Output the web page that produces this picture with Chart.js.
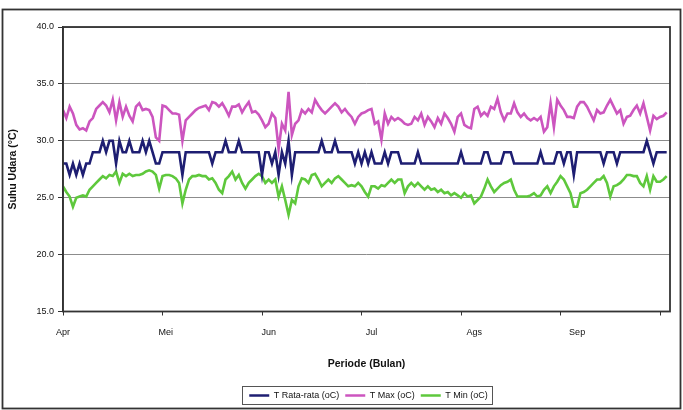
<!DOCTYPE html>
<html><head><meta charset="utf-8">
<script src="https://cdn.jsdelivr.net/npm/chart.js@4/dist/chart.umd.min.js"></script>
<style>html,body{margin:0;padding:0;background:#fff;}canvas{display:block;}</style>
</head><body>
<canvas id="c" width="683" height="410"></canvas>
<script>
const monthLabels = ['Apr', 'Mei', 'Jun', 'Jul', 'Ags', 'Sep'];
const labelDays = [0, 31, 62, 93, 124, 155];
const tickDays = [0, 30, 60, 90, 120, 150, 180];
const yTicks = [15, 20, 25, 30, 35, 40];
const seriesNames = ['T Rata-rata (oC)', 'T Max (oC)', 'T Min (oC)'];

const tRata = [
  28,28,27,28,27,28,27,28,28,29, 29,29,30,29,30,30,28,30,29,29, 30,29,29,29,30,29,30,29,28,28,
  29,29,29,29,29,29,27,29,29,29, 29,29,29,29,29,28,29,29,29,30, 29,29,29,30,29,29,29,29,29,29,
  27,29,29,28,29,27,29,28,30,27, 29,29,29,29,29,29,29,29,30,29, 29,29,30,29,29,29,29,29,28,29,
  28,29,28,29,28,28,28,29,28,29, 29,29,28,28,28,28,28,29,28,28, 28,28,28,28,28,28,28,28,28,28,
  29,28,28,28,28,28,28,29,29,28, 28,28,28,29,29,29,28,28,28,28, 28,28,28,28,29,28,28,28,28,29,
  29,28,29,29,27,29,29,29,29,29, 29,29,29,28,29,29,29,28,29,29, 29,29,29,29,29,29,30,29,28,29, 29,29,29
];

const tMax = [
  32.7,32.0,33.0,32.4,31.4,31.0,31.1,30.9,31.7,32.0, 32.8,33.1,33.4,33.1,32.5,33.6,31.8,33.4,32.1,33.0,
  32.2,31.7,33.0,33.3,32.7,32.8,32.7,32.1,30.3,30.0,
  33.1,33.0,32.7,32.4,32.4,32.3,30.0,31.8,32.1,32.4, 32.7,32.9,33.0,33.1,32.7,33.4,33.3,33.0,33.3,32.8,
  32.2,33.0,33.0,33.2,32.5,33.0,33.4,32.5,32.6,
  32.3,31.8,31.2,31.5,32.4,32.0,29.3,31.5,30.9,34.3, 30.5,31.5,31.8,32.7,32.4,32.8,32.5,33.6,33.1,32.7,
  32.4,32.7,33.0,33.3,33.0,32.5,32.8,32.4,32.1,31.5, 32.1,32.4,32.5,32.7,32.8,
  31.5,31.7,30.1,32.4,31.5,32.1,31.8,32.0,31.8,31.5, 31.4,31.5,32.1,31.8,32.4,31.4,32.1,31.7,31.2,32.0,
  31.5,32.4,32.0,31.5,30.8,32.1,32.4,31.4,31.2,31.1, 32.8,33.0,
  32.2,32.5,32.2,33.0,32.8,33.7,32.5,31.8,32.4,32.4, 33.3,32.5,32.1,32.4,32.0,31.8,32.0,31.8,32.1,30.8,
  31.2,33.3,31.2,33.6,33.1,32.7,32.1,32.1,32.0,33.0, 33.4,
  33.4,33.0,32.4,31.8,32.7,32.4,32.5,33.1,33.6,33.0, 32.4,32.7,31.5,32.1,32.2,32.7,33.1,32.4,33.3,32.1,
  30.9,32.2,31.9,32.1,32.2,32.5
];

const tMin = [
  26.0,25.5,25.1,24.2,25.0,25.1,25.2,25.1,25.7,26.0, 26.3,26.6,26.9,26.7,27.0,26.9,27.3,26.3,27.1,26.9,
  27.1,26.9,27.0,27.0,27.1,27.3,27.4,27.3,27.0,
  25.8,26.9,27.0,27.0,26.9,26.7,26.3,24.5,25.7,26.6, 26.9,26.9,27.0,26.9,26.9,26.6,26.7,26.3,25.7,25.4,
  26.6,26.9,27.3,26.6,27.0,26.3,25.8,26.3,26.6,26.9,
  27.1,26.9,26.3,26.6,26.3,26.6,25.1,26.0,24.8,23.5, 24.8,24.5,26.0,26.7,26.6,26.3,27.0,27.1,26.6,26.0,
  26.3,26.6,26.3,26.7,26.9,26.6,26.3,26.0,26.1,26.0, 26.3,26.0,25.5,25.1,26.0,
  26.0,25.8,26.1,26.0,26.3,26.6,26.3,26.6,26.6,25.4, 26.0,26.3,26.0,26.3,26.0,25.7,26.0,25.7,25.8,25.5,
  25.7,25.4,25.5,25.2,25.4,25.2,25.0,25.4,25.1,25.2, 24.5,24.8,
  25.1,25.8,26.6,26.0,25.5,25.8,26.1,26.3,26.4,26.6, 25.7,25.1,25.1,25.1,25.1,25.2,25.4,25.1,25.2,25.7,
  26.0,25.4,26.0,26.4,26.9,26.6,26.0,25.4,24.2,24.2, 25.4,
  25.5,25.7,26.0,26.3,26.6,26.6,26.9,26.3,25.1,26.0, 26.1,26.3,26.6,27.0,27.0,26.9,26.9,26.3,26.0,26.9,
  25.7,26.9,26.4,26.4,26.6,26.9
];

const FONT = "'Liberation Sans', Arial, Helvetica, sans-serif";
const colors = ['#1E1E72', '#CC55BF', '#5EC83C'];
const mk = arr => arr.map((v, i) => ({ x: i, y: v }));

const framePlugin = {
  id: 'frame',
  afterLayout(chart) {
    const lg = chart.legend;
    if (lg) {
      const ca = chart.chartArea;
      const shift = (ca.left + ca.right) / 2 + 2 - (lg.left + lg.right) / 2;
      lg.left += shift; lg.right += shift;
    }
  },
  afterDraw(chart) {
    const ctx = chart.ctx, ca = chart.chartArea;
    ctx.save();
    ctx.strokeStyle = '#333';
    ctx.lineWidth = 1.8;
    ctx.strokeRect(ca.left, ca.top, ca.right - ca.left, ca.bottom - ca.top);
    ctx.strokeRect(2.5, 9.5, 678, 399);
    const lg = chart.legend;
    if (lg && lg.lineWidths && lg.lineWidths.length) {
      const pad = lg.options.labels.padding;
      const lw = lg.lineWidths[0];
      const startX = (lg.left + pad + lg.right - lw) / 2;
      const endX = startX + lw - pad;
      const top = lg.top + pad;
      const itemH = lg.options.labels.font.size;
      ctx.lineWidth = 1;
      ctx.strokeStyle = '#555';
      ctx.strokeRect(Math.round(startX - 7) + 0.5, Math.round(top - 5) + 0.5,
                     Math.round(endX - startX + 11), Math.round(itemH + 9));
    }
    ctx.restore();
  }
};

new Chart(document.getElementById('c'), {
  type: 'line',
  data: {
    datasets: [tRata, tMax, tMin].map((arr, i) => ({
      label: seriesNames[i], data: mk(arr), borderColor: colors[i], backgroundColor: colors[i],
      borderWidth: 2.6, pointRadius: 0, tension: 0, xAxisID: 'x', yAxisID: 'y'
    }))
  },
  options: {
    responsive: false, animation: false, devicePixelRatio: 1,
    layout: { padding: { top: 27, right: 13, bottom: 0, left: 0 } },
    plugins: {
      legend: {
        position: 'bottom',
        labels: { usePointStyle: true, pointStyle: 'line', pointStyleWidth: 20, boxWidth: 20, padding: 6,
                  color: '#111', font: { family: FONT, size: 9 } }
      },
      tooltip: { enabled: false }
    },
    scales: {
      x: {
        type: 'linear', position: 'bottom', weight: 1, min: 0, max: 183,
        afterBuildTicks: s => { s.ticks = labelDays.map(v => ({ value: v })); },
        afterFit: s => { s.height = 69.5; },
        ticks: { autoSkip: false, maxRotation: 0, padding: 4, color: '#111', font: { family: FONT, size: 9 },
                 callback: v => monthLabels[labelDays.indexOf(v)] },
        grid: { display: false }, border: { display: false },
        title: { display: true, text: 'Periode (Bulan)', color: '#111',
                 font: { family: FONT, size: 10.5, weight: 'bold' }, padding: { top: 0, bottom: 14.5 } }
      },
      x2: {
        type: 'linear', position: 'bottom', weight: 0, min: 0, max: 183,
        afterBuildTicks: s => { s.ticks = tickDays.map(v => ({ value: v })); },
        ticks: { display: false },
        grid: { drawOnChartArea: false, drawTicks: true, tickLength: 4, color: '#333', lineWidth: 1 },
        border: { display: false }
      },
      y: {
        min: 15, max: 40,
        afterBuildTicks: s => { s.ticks = yTicks.map(v => ({ value: v })); },
        afterFit: s => { s.width = 63; },
        ticks: { padding: 4, color: '#111', font: { family: FONT, size: 9 }, callback: v => Number(v).toFixed(1) },
        grid: { color: '#8c8c8c', lineWidth: 1, tickLength: 5, tickColor: '#333' },
        border: { display: true, color: '#333', width: 1.5 },
        title: { display: true, text: 'Suhu Udara (°C)', color: '#111',
                 font: { family: FONT, size: 10.5, weight: 'bold' }, padding: { top: 7, bottom: 0 } }
      }
    }
  },
  plugins: [framePlugin]
});
</script>
</body></html>
